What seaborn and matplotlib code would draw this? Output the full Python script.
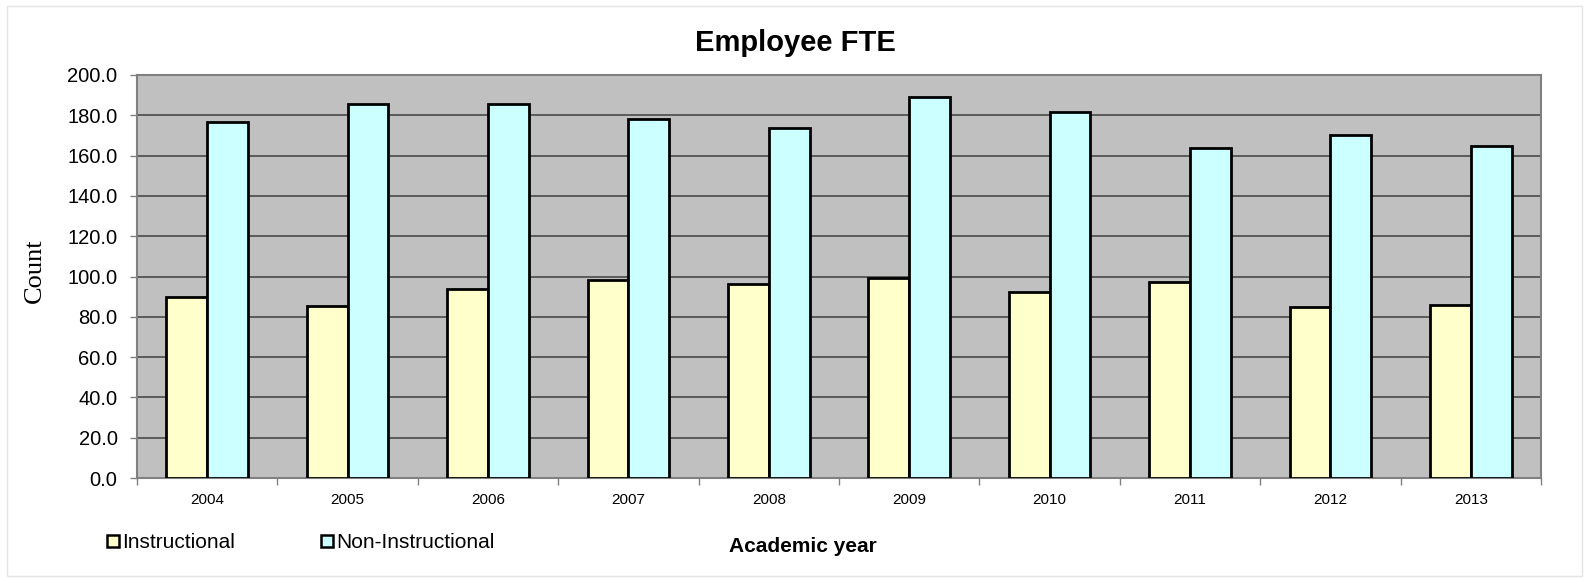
import matplotlib
matplotlib.use("Agg")
import matplotlib.pyplot as plt
import seaborn as sns
import pandas as pd
from matplotlib.lines import Line2D
from matplotlib.patches import Rectangle
from matplotlib.ticker import FixedLocator, FormatStrFormatter

years = ['2004', '2005', '2006', '2007', '2008', '2009', '2010', '2011', '2012', '2013']
instructional = [89.6, 85.6, 94.0, 98.2, 96.5, 99.2, 92.2, 97.4, 85.0, 86.0]
non_instructional = [176.9, 185.6, 185.6, 178.2, 173.6, 189.3, 181.6, 164.0, 170.2, 164.8]

df = pd.DataFrame({
    'Year': years * 2,
    'FTE': instructional + non_instructional,
    'Type': ['Instructional'] * len(years) + ['Non-Instructional'] * len(years),
})

sns.set_theme(style="white")
plt.rcParams['font.family'] = ['Liberation Sans', 'DejaVu Sans']
plt.rcParams['text.color'] = 'black'
plt.rcParams['xtick.color'] = 'black'
plt.rcParams['ytick.color'] = 'black'

colors = {'Instructional': '#FFFFCC', 'Non-Instructional': '#CCFFFF'}
W, H = 1593, 581

fig = plt.figure(figsize=(W / 100, H / 100), dpi=100)
ax = fig.add_axes([137 / W, 1 - 478 / H, (1541 - 137) / W, (478 - 75) / H])

sns.barplot(data=df, x='Year', y='FTE', hue='Type', palette=colors, width=0.58,
            edgecolor='black', linewidth=2, saturation=1, legend=False, ax=ax, zorder=3)

ax.set_facecolor('#C0C0C0')
ax.set_ylim(0, 200)
ax.set_xlim(-0.5, len(years) - 0.5)
ax.set_yticks(range(0, 201, 20))
ax.yaxis.set_major_formatter(FormatStrFormatter('%.1f'))
ax.grid(axis='y', color='#4a4a4a', linewidth=1.2, zorder=0)
ax.set_axisbelow(True)
for s in ax.spines.values():
    s.set_color('#808080')
    s.set_linewidth(1.5)

ax.tick_params(axis='y', labelsize=14.5, length=5, width=1, color='#808080', left=True,
               pad=9, labelcolor='black')
ax.tick_params(axis='x', which='major', labelsize=11, length=0, pad=11, labelcolor='black')
ax.xaxis.set_minor_locator(FixedLocator([i - 0.5 for i in range(len(years) + 1)]))
ax.tick_params(axis='x', which='minor', length=5, width=1, color='#808080', bottom=True)

ax.set_xlabel('')
ax.set_ylabel('')
fig.text(35 / W, 1 - 271 / H, 'Count', fontsize=19, family='Liberation Serif',
         rotation=90, ha='center', va='center')

fig.text(795 / W, 1 - 50.7 / H, 'Employee FTE', fontsize=21, fontweight='bold',
         ha='center', va='baseline')
fig.text(803 / W, 1 - 551.5 / H, 'Academic year', fontsize=15, fontweight='bold',
         ha='center', va='baseline')

handles = [Line2D([], [], marker='s', linestyle='none', markersize=8.6,
                  markerfacecolor=colors[k], markeredgecolor='black', markeredgewidth=1.8)
           for k in colors]
fig.legend(handles, list(colors), loc='center left', bbox_to_anchor=(107 / W, 1 - 543 / H),
           ncol=2, frameon=False, fontsize=15, handletextpad=0.15, columnspacing=4.1,
           handlelength=0.6, borderpad=0, borderaxespad=0)

fig.patches.append(Rectangle((7 / W, 5 / H), 1575 / W, 570 / H, transform=fig.transFigure,
                             fill=False, edgecolor='#e4e4e4', linewidth=1))

fig.savefig('out.png', dpi=100)
